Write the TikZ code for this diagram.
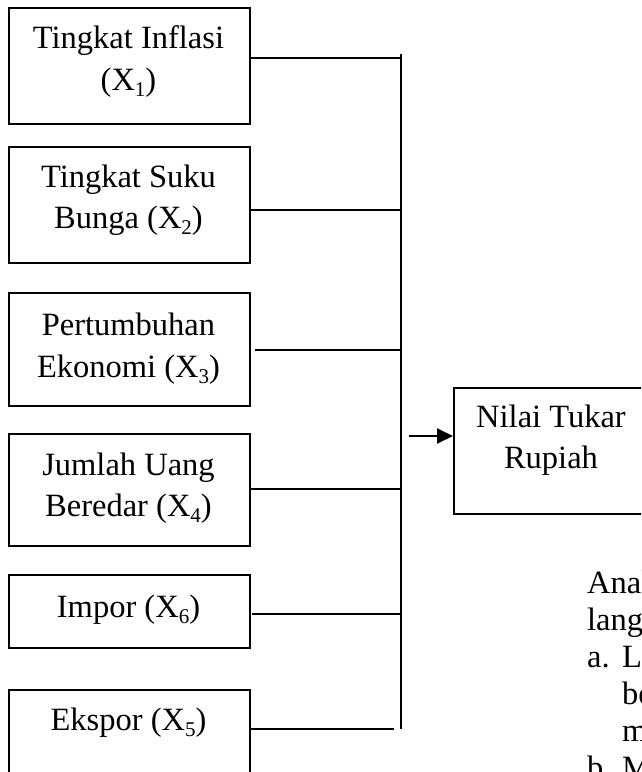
\documentclass[tikz,border=0pt]{standalone}
\usepackage{fontspec}
\setmainfont{Liberation Serif}
\usetikzlibrary{arrows.meta}
\newcommand\xsub[1]{\raisebox{-0.2em}{\fontsize{21}{21}\selectfont #1}}
\tikzset{
  box/.style={draw=black, line width=1.7pt, rectangle, inner sep=0pt, anchor=north west},
  txt/.style={inner sep=0pt, anchor=base, font=\fontsize{32.5}{38}\selectfont},
  ltxt/.style={inner sep=0pt, anchor=base west, font=\fontsize{32.5}{38}\selectfont},
  conn/.style={line width=2pt},
  bus/.style={line width=2.8pt},
  arr/.style={line width=2pt, -{Triangle[length=16pt,width=15pt]}},
}
\begin{document}
\begin{tikzpicture}[x=1pt,y=-1pt]
\useasboundingbox (0,0) rectangle (641,772);
\clip (0,0) rectangle (641,772);

% boxes
\node[box, minimum width=241pt, minimum height=116pt] (b1) at (8,7) {};
\node[box, minimum width=241pt, minimum height=116pt] (b2) at (8,146) {};
\node[box, minimum width=241pt, minimum height=113pt] (b3) at (8,292) {};
\node[box, minimum width=241pt, minimum height=112pt] (b4) at (8,433) {};
\node[box, minimum width=241pt, minimum height=73pt]  (b5) at (8,574) {};
\node[box, minimum width=241pt, minimum height=110pt] (b6) at (8,689) {};
\node[box, minimum width=196pt, minimum height=126pt] (y)  at (453,387) {};

% box texts
\node[txt] (t1a) at (128.5,48)  {Tingkat Inflasi};
\node[txt] (t1b) at (128.5,90)  {(X\xsub{1})};
\node[txt] (t2a) at (128.5,187) {Tingkat Suku};
\node[txt] (t2b) at (128.5,228) {Bunga (X\xsub{2})};
\node[txt] (t3a) at (128.5,335) {Pertumbuhan};
\node[txt] (t3b) at (128.5,377) {Ekonomi (X\xsub{3})};
\node[txt] (t4a) at (128.5,475) {Jumlah Uang};
\node[txt] (t4b) at (128.5,516) {Beredar (X\xsub{4})};
\node[txt] (t5)  at (128.5,617) {Impor (X\xsub{6})};
\node[txt] (t6)  at (128.5,730) {Ekspor (X\xsub{5})};
\node[txt] (tya) at (551,427) {Nilai Tukar};
\node[txt] (tyb) at (551,468) {Rupiah};

% connector points
\coordinate (s1) at (249,58);
\coordinate (s2) at (249,210);
\coordinate (s3) at (255,350);
\coordinate (s4) at (249,489);
\coordinate (s5) at (252,614);
\coordinate (s6) at (249,729);
\coordinate (e1) at (401,58);
\coordinate (e2) at (401,210);
\coordinate (e3) at (401,350);
\coordinate (e4) at (401,489);
\coordinate (e5) at (401,614);
\coordinate (e6) at (394,729);
\coordinate (bt) at (401,54);
\coordinate (bb) at (401,729);
\coordinate (a0) at (409,436);

\draw[conn] (s1) -- (e1);
\draw[conn] (s2) -- (e2);
\draw[conn] (s3) -- (e3);
\draw[conn] (s4) -- (e4);
\draw[conn] (s5) -- (e5);
\draw[conn] (s6) -- (e6);
\draw[bus] (bt) -- (bb);
\draw[arr] (a0) -- (y.west |- a0);

% truncated body text at the lower right
\node[ltxt] (p1) at (587,593) {Anal};
\node[ltxt] (p2) at (587,630) {lang};
\node[ltxt] (p3) at (587,667) {a.};
\node[ltxt] (p3b) at (622,667) {L};
\node[ltxt] (p4) at (622,704) {be};
\node[ltxt] (p5) at (622,741) {m};
\node[ltxt] (p6) at (587,778) {b.};
\node[ltxt] (p6b) at (622,778) {M};
\end{tikzpicture}
\end{document}
